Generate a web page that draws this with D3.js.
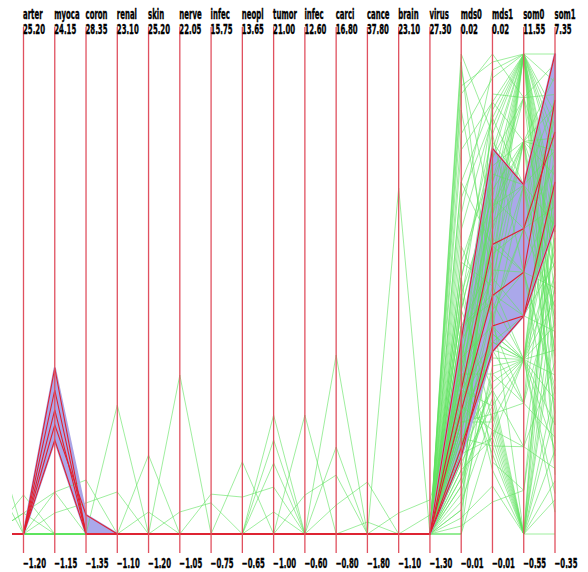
<!DOCTYPE html>
<html>
<head>
<meta charset="utf-8">
<script src="https://cdn.jsdelivr.net/npm/d3@7"></script>
<style>
  html, body { margin: 0; padding: 0; background: #fff; }
  svg { display: block; }
  text { font-family: "Liberation Sans Narrow", "DejaVu Sans Condensed", "Arial Narrow", sans-serif;
         font-size: 14px; font-weight: bold; fill: #000; stroke: #000; stroke-width: 0.35; }
</style>
</head>
<body>
<svg id="chart" width="588" height="572"></svg>
<script>
// ---- dimensions (term weights, MDS projection, SOM grid position) ----
const dims   = ["arter","myoca","coron","renal","skin","nerve","infec","neopl","tumor",
                "infec","carci","cance","brain","virus","mds0","mds1","som0","som1"];
const dimMax = [25.20,24.15,28.35,23.10,25.20,22.05,15.75,13.65,21.00,
                12.60,16.80,37.80,23.10,27.30,0.02,0.02,11.55,7.35];
const dimMin = [-1.20,-1.15,-1.35,-1.10,-1.20,-1.05,-0.75,-0.65,-1.00,
                -0.60,-0.80,-1.80,-1.10,-1.30,-0.01,-0.01,-0.55,-0.35];
// the column just before "arter" is scrolled off the left edge
const prevDomain = [0, 1];

// ---- unselected documents: projection columns ----
const mds0Vals = [0.0200,0.0180,0.0150,0.0120,0.0090,0.0060,0.0040,0.0020,0.0005,-0.0010,-0.0030,0.0100,0.0030,-0.0040,
                  0.0190,0.0140,0.0070,0.0030,-0.0005,0.0010,0.0165,
                  0.0040,0.0010,-0.0020,0.0110,0.0195,
                  0.0050,-0.0010,0.0080,0.0000,0.0060,-0.0030,0.0020,-0.0045,
                  0.0010,-0.0010,-0.0025,0.0000,-0.0040,-0.0055,0.0030,-0.0015,-0.0070,0.0050,-0.0035,-0.0085,0.0070,-0.0060,
                  -0.0020,-0.0050,0.0010,-0.0075,-0.0030,0.0060,
                  -0.0010,-0.0030,-0.0050,0.0000,-0.0065,0.0020,-0.0080,-0.0100,-0.0040,0.0040,-0.0100,-0.0090,
                  -0.0100,-0.0085,0.0175,-0.0065,-0.0095,0.0120,
                  -0.0020,-0.0035,-0.0050,-0.0010,0.0000,-0.0045,-0.0060,0.0015,
                  -0.0025,-0.0055,0.0025,-0.0015,-0.0070,0.0005,-0.0030,0.0045];
const mds1Vals = [0.0150,0.0195,0.0185,0.0170,0.0160,0.0140,0.0120,0.0100,0.0080,0.0065,0.0110,0.0190,0.0050,0.0090,
                  0.0100,0.0170,0.0130,0.0070,0.0045,0.0105,0.0060,
                  0.0125,0.0095,0.0055,0.0160,0.0030,
                  0.0110,0.0075,0.0035,0.0085,0.0150,0.0040,0.0060,0.0020,
                  0.0030,0.0020,0.0010,0.0000,-0.0010,-0.0020,0.0045,0.0015,-0.0005,-0.0030,0.0025,0.0005,0.0055,-0.0040,
                  -0.0035,-0.0010,-0.0045,0.0000,-0.0025,-0.0055,
                  -0.0020,-0.0030,-0.0040,-0.0050,-0.0015,-0.0060,-0.0025,-0.0035,-0.0045,-0.0010,0.0040,-0.0070,
                  0.0175,0.0135,0.0200,0.0015,-0.0080,0.0080,
                  0.0120,0.0090,0.0070,0.0135,0.0105,0.0040,0.0025,0.0155,
                  0.0065,0.0100,0.0115,0.0050,0.0030,0.0145,0.0020,0.0165];
const som0Vals = [11.55,11.55,11.55,11.55,11.55,11.55,11.55,11.55,11.55,11.55,11.55,11.55,11.55,11.55,
                  9.35,9.35,9.35,9.35,9.35,9.35,9.35,
                  8.25,8.25,8.25,8.25,8.25,
                  7.15,7.15,7.15,6.05,6.05,6.05,4.95,4.95,
                  3.85,3.85,3.85,3.85,3.85,3.85,3.85,3.85,3.85,3.85,3.85,3.85,3.85,3.85,
                  1.65,1.65,1.65,2.75,2.75,0.55,
                  -0.55,-0.55,-0.55,-0.55,-0.55,-0.55,-0.55,-0.55,-0.55,-0.55,-0.55,-0.55,
                  10.45,10.45,10.45,2.75,0.55,6.05,
                  10.45,9.35,11.55,11.55,8.25,7.15,3.85,11.55,
                  6.05,10.45,9.35,4.95,2.75,8.25,3.85,11.55];
const som1Vals = [7.35,6.90,5.60,4.20,6.20,2.80,3.50,1.40,5.00,0.60,2.10,4.80,6.40,3.00,
                  6.00,4.50,3.20,2.40,1.10,5.40,7.00,
                  5.80,3.90,2.60,6.60,1.60,
                  4.90,3.30,6.30,2.00,5.20,0.90,4.00,2.90,
                  5.60,4.20,3.40,2.60,1.80,1.00,6.20,0.30,3.00,2.20,4.80,1.40,3.80,0.00,
                  2.40,4.40,0.70,3.60,1.20,5.00,
                  2.90,4.60,1.60,0.50,3.70,6.00,2.00,-0.35,5.40,1.00,3.20,0.20,
                  6.70,5.10,7.20,6.80,3.90,1.90,
                  4.00,5.80,4.50,3.80,4.60,5.60,6.60,5.80,
                  3.60,2.50,6.50,5.20,4.80,3.10,5.10,6.00];
// ---- unselected documents: non-zero term weights [document, column, value]; column -1 = off-screen column ----
const greenPeaks = [
  [60,-1,0.22],[61,-1,0.12],
  [5,0,0.95],[3,0,-0.05],[26,0,-0.05],
  [3,1,1.06],[12,1,-0.04],[27,1,1.06],
  [3,2,1.99],[12,2,0.57],
  [20,3,5.40],[12,3,1.02],
  [22,4,3.14],[29,4,0.01],
  [30,5,6.60],[31,5,0.01],
  [31,6,0.32],[33,6,0.62],
  [33,7,0.45],[40,7,1.50],
  [33,8,1.15],[41,8,4.45],[42,8,3.31],[43,8,2.25],[44,8,0.01],
  [46,9,2.67],[47,9,0.47],
  [48,10,5.76],[49,10,2.39],[47,10,1.36],[50,10,0.26],
  [50,11,2.49],[52,11,-0.81],
  [53,12,16.34],[54,12,-0.04],
  [54,13,0.73],[62,13,-0.17]
];

// ---- selected cluster ----
const selMds0 = [0.0021,-0.0010,-0.0023,-0.0046,-0.0052];
const selMds1 = [0.0141,0.0081,0.0049,0.0014,0.0030];
const selSom0 = [8.25,7.15,6.05,4.95,4.95];
const selSom1 = [7.35,6.10,6.61,5.30,4.60];
const selPeaks = [[0,1,7.60],[1,1,6.44],[2,1,5.39],[3,1,4.60],[3,2,-0.17],[4,1,3.80]];

// ---- build rows: [prev, ...18 columns] ----
function buildRows(m0, m1, s0, s1, peaks) {
  const rows = m0.map((_, i) => {
    const r = [prevDomain[0]].concat(dimMin);
    r[15] = m0[i]; r[16] = m1[i]; r[17] = s0[i]; r[18] = s1[i];
    return r;
  });
  peaks.forEach(([rec, col, v]) => { rows[rec][col + 1] = v; });
  return rows;
}
const greenRows = buildRows(mds0Vals, mds1Vals, som0Vals, som1Vals, greenPeaks);
const selRows   = buildRows(selMds0, selMds1, selSom0, selSom1, selPeaks);

// ---- scales ----
const yTop = 54, yBot = 534;
const x = d3.scalePoint().domain(d3.range(dims.length)).range([23.5, 555]);
const prevX = x(0) - x.step();
const yScales = [d3.scaleLinear().domain(prevDomain).range([yBot, yTop])]
  .concat(dims.map((_, i) => d3.scaleLinear().domain([dimMin[i], dimMax[i]]).range([yBot, yTop])));
const colX = c => c === 0 ? prevX : x(c - 1);

const svg = d3.select("#chart");
svg.append("defs").append("clipPath").attr("id", "plotClip")
  .append("rect").attr("x", 12).attr("y", 0).attr("width", 576).attr("height", 572);

const plot = svg.append("g").attr("clip-path", "url(#plotClip)");
const line = d3.line().x(d => d[0]).y(d => d[1]);
const toPts = r => r.map((v, c) => [colX(c), yScales[c](v)]);

// envelope of the selected cluster
const env = d3.range(dims.length + 1).map(c => {
  const ys = selRows.map(r => yScales[c](r[c]));
  return { x: colX(c), lo: d3.max(ys), hi: d3.min(ys) };
});
const area = d3.area().x(d => d.x).y0(d => d.lo).y1(d => d.hi);

plot.append("path").attr("d", area(env)).attr("fill", "#aaa8ea").attr("stroke", "none");

plot.append("g").selectAll("path").data(greenRows).join("path")
  .attr("d", r => line(toPts(r)))
  .attr("fill", "none").attr("stroke", "#5fe25f").attr("stroke-width", 1).attr("stroke-opacity", 0.6);

plot.append("path").attr("d", area(env)).attr("fill", "none")
  .attr("stroke", "#aaa4e6").attr("stroke-width", 2.2).attr("stroke-linejoin", "round");

// axes
svg.append("g").selectAll("line").data(dims).join("line")
  .attr("x1", (d, i) => x(i)).attr("x2", (d, i) => x(i))
  .attr("y1", 27).attr("y2", 553)
  .attr("stroke", "#e0505f").attr("stroke-width", 1.3);

plot.append("g").selectAll("path").data(selRows).join("path")
  .attr("d", r => line(toPts(r)))
  .attr("fill", "none").attr("stroke", "#e0202e").attr("stroke-width", 1.1);

// labels, condensed horizontally so a value like "25.20" is about 22px wide
const fmt = d3.format(".2f");
const lab = svg.append("g");
const probe = lab.append("text").text("25.20");
const squeeze = 22 / probe.node().getComputedTextLength();
probe.remove();
function addText(tx, ty, s) {
  lab.append("text").attr("transform", `translate(${tx},${ty}) scale(${squeeze},1)`).text(s);
}
dims.forEach((d, i) => {
  addText(x(i) - 0.5, 19, d);
  addText(x(i) - 0.5, 34, fmt(dimMax[i]));
  addText(x(i) - 0.5, 568, fmt(dimMin[i]));
});
</script>
</body>
</html>
